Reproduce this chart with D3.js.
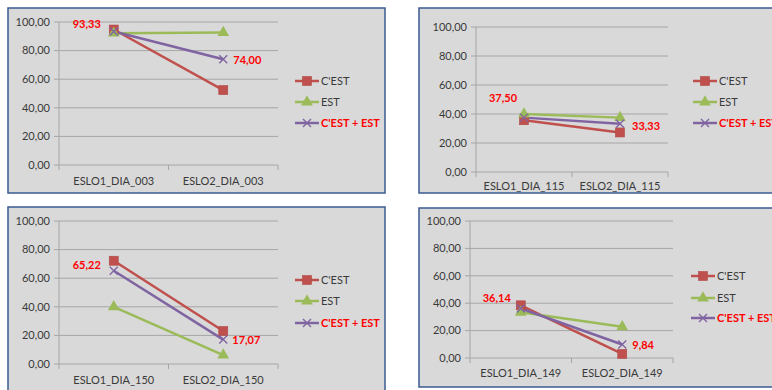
<!DOCTYPE html>
<html><head><meta charset="utf-8">
<script src="https://cdn.jsdelivr.net/npm/d3@7"></script>
<style>html,body{margin:0;padding:0;background:#fff;}svg{display:block;}</style>
</head><body>
<svg id="chart" width="772" height="390"></svg>
<script>
const seriesNames = ["C'EST", "EST", "C'EST + EST"];
const seriesColors = ["#c0504d", "#9bbb59", "#8064a2"];
const yTicks = [0, 20, 40, 60, 80, 100];

const categories003 = ["ESLO1_DIA_003", "ESLO2_DIA_003"];
const cest003 = [94.74, 52.38];
const est003 = [92.16, 92.59];
const both003 = [93.33, 74.00];

const categories115 = ["ESLO1_DIA_115", "ESLO2_DIA_115"];
const cest115 = [35.71, 27.27];
const est115 = [40.00, 37.50];
const both115 = [37.50, 33.33];

const categories150 = ["ESLO1_DIA_150", "ESLO2_DIA_150"];
const cest150 = [72.22, 23.08];
const est150 = [40.00, 6.25];
const both150 = [65.22, 17.07];

const categories149 = ["ESLO1_DIA_149", "ESLO2_DIA_149"];
const cest149 = [38.46, 2.94];
const est149 = [33.33, 22.73];
const both149 = [36.14, 9.84];

const panels = [
  {cats: categories003, series: [cest003, est003, both003],
   frame: [8, 8, 377, 185], plot: [59, 22, 278, 165], legX: 295, legY: [81, 102, 123],
   lab1: [-27, -7], lab2: [10, 1], labY: 181},
  {cats: categories115, series: [cest115, est115, both115],
   frame: [419, 8, 360, 185], plot: [476, 27, 668, 172], legX: 693, legY: [81, 102, 123],
   lab1: [-21, -19], lab2: [12, 2], labY: 186},
  {cats: categories150, series: [cest150, est150, both150],
   frame: [8, 207, 377, 190], plot: [59, 221, 278, 364], legX: 295, legY: [280, 301, 323],
   lab1: [-27, -6], lab2: [9, 1], labY: 380},
  {cats: categories149, series: [cest149, est149, both149],
   frame: [419, 208, 360, 179], plot: [470, 221, 673, 358], legX: 691, legY: [276, 298, 318],
   lab1: [-24, -10], lab2: [10, 1], labY: 373}
];

const svg = d3.select("#chart");
const font = "Lato, 'Open Sans', sans-serif";
const fmt = v => v.toFixed(2).replace(".", ",");

function marker(g, type, x, y, color) {
  if (type === 0) {
    g.append("rect").attr("x", x - 4.5).attr("y", y - 4.5).attr("width", 9).attr("height", 9)
      .attr("fill", color).attr("stroke", "#b04a47").attr("stroke-width", 0.6);
  } else if (type === 1) {
    g.append("path").attr("d", d3.symbol(d3.symbolTriangle, 60)()).attr("transform", `translate(${x},${y})`)
      .attr("fill", color);
  } else {
    const s = 4;
    g.append("path").attr("d", `M${x-s},${y-s}L${x+s},${y+s}M${x-s},${y+s}L${x+s},${y-s}`)
      .attr("stroke", color).attr("stroke-width", 1.4).attr("fill", "none");
  }
}

panels.forEach(p => {
  const g = svg.append("g");
  const [fx, fy, fw, fh] = p.frame;
  g.append("rect").attr("x", fx).attr("y", fy).attr("width", fw).attr("height", fh)
    .attr("fill", "#d9d9d9").attr("stroke", "#3a5a92").attr("stroke-width", 1.5);
  const [x0, y0, x1, y1] = p.plot;
  const y = d3.scaleLinear().domain([0, 100]).range([y1, y0]);
  const x = d3.scalePoint().domain(p.cats).range([x0, x1]).padding(0.5);
  yTicks.forEach(t => {
    g.append("line").attr("x1", x0 - 5).attr("x2", x1).attr("y1", y(t)).attr("y2", y(t))
      .attr("stroke", "#a6a6a6").attr("stroke-width", 1);
    g.append("text").attr("x", x0 - 9).attr("y", y(t)).attr("dy", "0.35em").attr("text-anchor", "end")
      .attr("font-family", font).attr("font-size", 11).attr("fill", "#3a3a3a").text(fmt(t));
  });
  g.append("line").attr("x1", x0).attr("x2", x0).attr("y1", y0).attr("y2", y1 + 5).attr("stroke", "#a6a6a6");
  const mid = (x0 + x1) / 2;
  [mid, x1].forEach(tx => g.append("line").attr("x1", tx).attr("x2", tx).attr("y1", y1).attr("y2", y1 + 5).attr("stroke", "#a6a6a6"));
  p.cats.forEach(c => {
    g.append("text").attr("x", x(c)).attr("y", p.labY).attr("dy", "0.35em").attr("text-anchor", "middle")
      .attr("font-family", font).attr("font-size", 11).attr("fill", "#3a3a3a").text(c);
  });
  const line = d3.line().x((d, i) => x(p.cats[i])).y(d => y(d));
  p.series.forEach((vals, si) => {
    g.append("path").datum(vals).attr("d", line).attr("fill", "none")
      .attr("stroke", seriesColors[si]).attr("stroke-width", 2.5);
  });
  p.series.forEach((vals, si) => {
    vals.forEach((v, i) => marker(g, si, x(p.cats[i]), y(v), seriesColors[si]));
  });
  const both = p.series[2];
  g.append("text").attr("x", x(p.cats[0]) + p.lab1[0]).attr("y", y(both[0]) + p.lab1[1]).attr("dy", "0.35em")
    .attr("text-anchor", "middle").attr("font-family", font).attr("font-weight", "bold").attr("font-size", 11)
    .attr("fill", "#ff0000").text(fmt(both[0]));
  g.append("text").attr("x", x(p.cats[1]) + p.lab2[0]).attr("y", y(both[1]) + p.lab2[1]).attr("dy", "0.35em")
    .attr("text-anchor", "start").attr("font-family", font).attr("font-weight", "bold").attr("font-size", 11)
    .attr("fill", "#ff0000").text(fmt(both[1]));
  seriesNames.forEach((n, si) => {
    const ly = p.legY[si];
    g.append("line").attr("x1", p.legX).attr("x2", p.legX + 24).attr("y1", ly).attr("y2", ly)
      .attr("stroke", seriesColors[si]).attr("stroke-width", 2.5);
    marker(g, si, p.legX + 12, ly, seriesColors[si]);
    g.append("text").attr("x", p.legX + 26).attr("y", ly).attr("dy", "0.35em")
      .attr("font-family", font).attr("font-size", 11)
      .attr("font-weight", si === 2 ? "bold" : "normal")
      .attr("fill", si === 2 ? "#ff0000" : "#3a3a3a").text(n);
  });
});
</script>
</body></html>
